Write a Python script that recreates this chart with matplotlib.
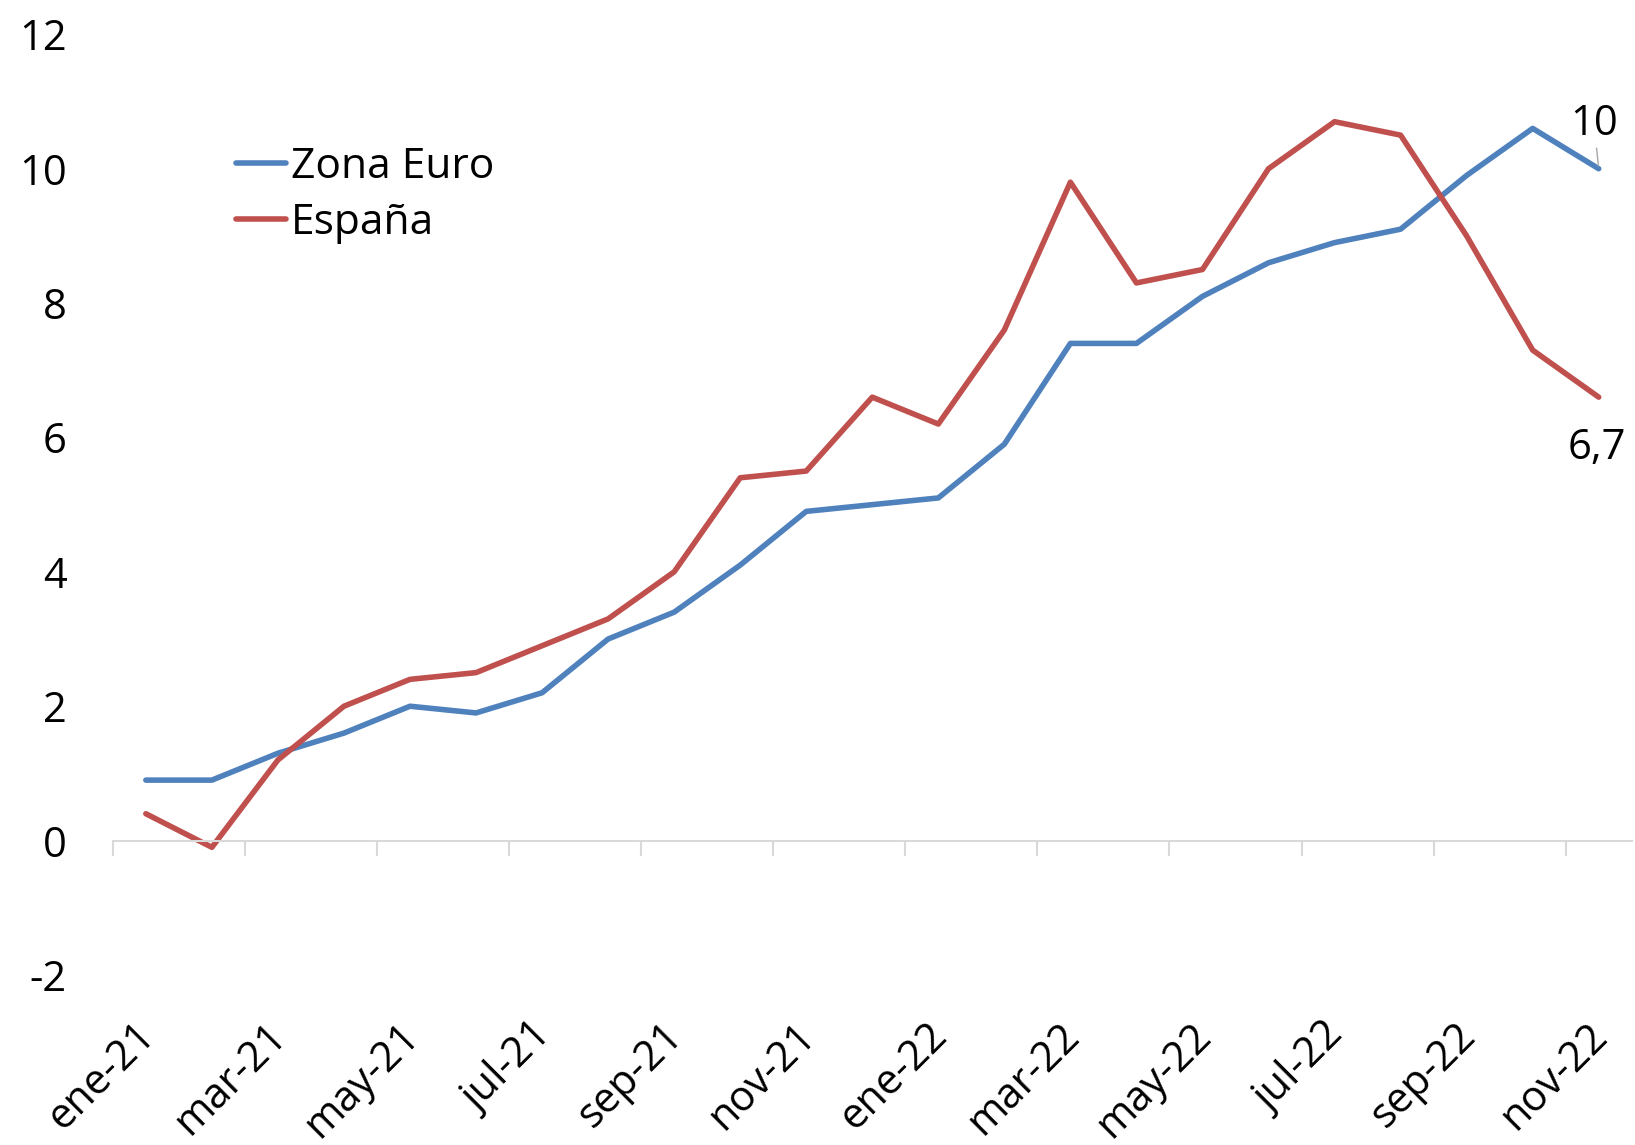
"""Inflación armonizada: Zona Euro vs España (ene-21 a nov-22)."""
import numpy as np
import matplotlib
matplotlib.use("Agg")
import matplotlib.pyplot as plt
from matplotlib.transforms import ScaledTranslation

AZUL = "#4f81bd"
ROJO = "#c0504d"
GRIS = "#d9d9d9"
FS = 30

meses = ["ene-21", "feb-21", "mar-21", "abr-21", "may-21", "jun-21", "jul-21", "ago-21",
         "sep-21", "oct-21", "nov-21", "dic-21", "ene-22", "feb-22", "mar-22", "abr-22",
         "may-22", "jun-22", "jul-22", "ago-22", "sep-22", "oct-22", "nov-22"]
zona_euro = [0.9, 0.9, 1.3, 1.6, 2.0, 1.9, 2.2, 3.0, 3.4, 4.1, 4.9, 5.0,
             5.1, 5.9, 7.4, 7.4, 8.1, 8.6, 8.9, 9.1, 9.9, 10.6, 10.0]
espana = [0.4, -0.1, 1.2, 2.0, 2.4, 2.5, 2.9, 3.3, 4.0, 5.4, 5.5, 6.6,
          6.2, 7.6, 9.8, 8.3, 8.5, 10.0, 10.7, 10.5, 9.0, 7.3, 6.6]
etiquetas_fin = ["10", "6,7"]
yticks = [-2, 0, 2, 4, 6, 8, 10, 12]

plt.rcParams.update({
    "font.family": ["Open Sans", "DejaVu Sans"],
    "font.size": FS,
    "axes.unicode_minus": False,
})

fig = plt.figure(figsize=(16.35, 11.45), dpi=100)
ax = fig.add_axes([0.069, 0.1485, 0.929, 0.8215])

x = np.arange(len(meses))
ax.plot(x, zona_euro, color=AZUL, lw=4.0, solid_capstyle="round", solid_joinstyle="round", label="Zona Euro")
ax.plot(x, espana, color=ROJO, lw=4.0, solid_capstyle="round", solid_joinstyle="round", label="España")

ax.set_xlim(-0.5, len(meses) - 0.5)
ax.set_ylim(-2, 12)
ax.set_yticks(yticks)
ax.set_yticklabels([str(v) for v in yticks])
ax.tick_params(axis="y", length=0, pad=33, labelsize=FS)

for s in ["left", "right", "top"]:
    ax.spines[s].set_visible(False)
ax.spines["bottom"].set_position(("data", 0))
ax.spines["bottom"].set_color(GRIS)
ax.spines["bottom"].set_linewidth(1.5)

# marcas en los limites de categoria, cada dos meses
ax.set_xticks(np.arange(-0.5, len(meses), 2))
ax.set_xticklabels([])
ax.tick_params(axis="x", length=11, width=1.5, color=GRIS, direction="out")

sec = ax.secondary_xaxis("bottom")
sec.set_xticks(x[::2])
sec.set_xticklabels(meses[::2], rotation=45, ha="right", va="top", rotation_mode="anchor")
sec.tick_params(length=0, pad=30, labelsize=FS)
sec.spines["bottom"].set_visible(False)
desplaza = ScaledTranslation(-12 / 100, 2 / 100, fig.dpi_scale_trans)
for lab in sec.get_xticklabels():
    lab.set_transform(lab.get_transform() + desplaza)

# etiquetas del ultimo dato
ax.annotate(etiquetas_fin[0], xy=(x[-1], zona_euro[-1]), xytext=(x[-1] - 0.07, zona_euro[-1] + 0.66),
            ha="center", va="center", fontsize=FS,
            arrowprops=dict(arrowstyle="-", color="#a6a6a6", lw=1, shrinkA=0, shrinkB=2))
ax.text(x[-1] - 0.03, espana[-1] - 0.75, etiquetas_fin[1], ha="center", va="center", fontsize=FS)

ax.legend(loc="upper left", bbox_to_anchor=(0.0814, 0.881), frameon=False, fontsize=FS + 0.6,
          handlelength=1.17, handletextpad=0.12, labelspacing=0.33, borderpad=0, borderaxespad=0)

fig.savefig("out.png", dpi=100)
